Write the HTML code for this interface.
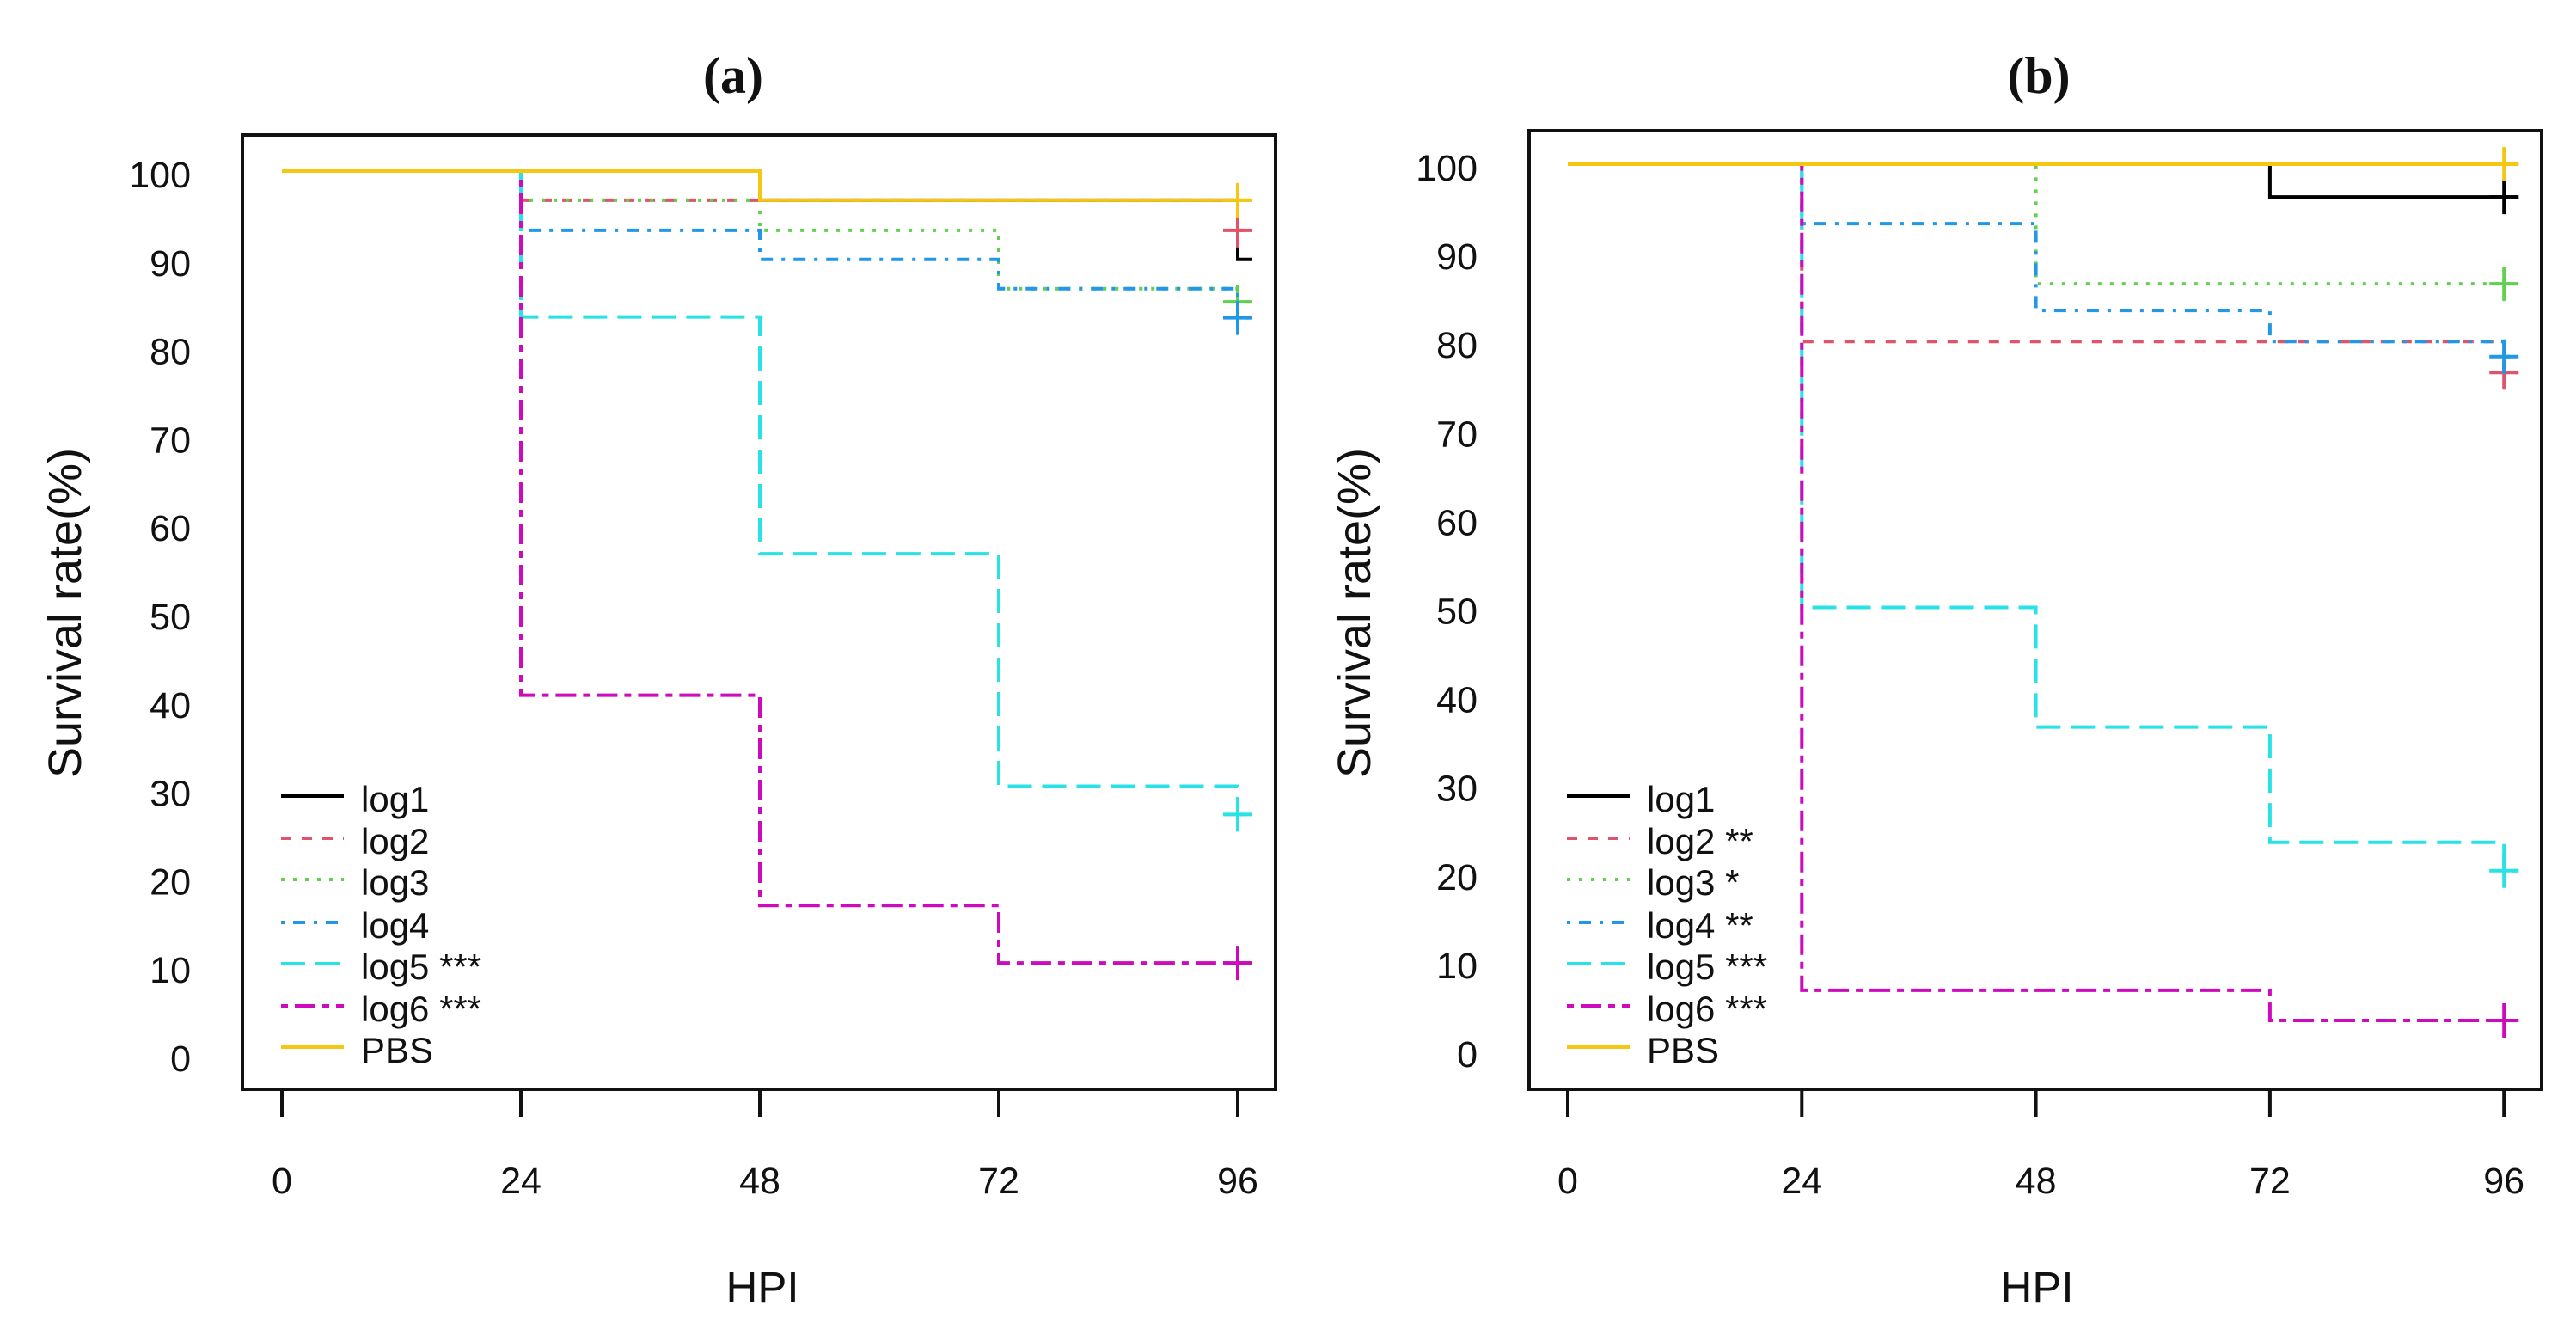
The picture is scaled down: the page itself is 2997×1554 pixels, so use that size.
<!DOCTYPE html>
<html><head><meta charset="utf-8"><style>
html,body{margin:0;padding:0;background:#fff;}
svg{display:block;}
text{font-family:"Liberation Sans",sans-serif;fill:#111;}
</style></head>
<body>
<svg id="chart" width="2997" height="1554" viewBox="0 0 2997 1554" xmlns="http://www.w3.org/2000/svg"></svg>
<script>
const times = [0, 24, 48, 72, 96];
const xTickLabels = ["0", "24", "48", "72", "96"];
const yTickLabels = [0, 10, 20, 30, 40, 50, 60, 70, 80, 90, 100];
const seriesNames = ["log1", "log2", "log3", "log4", "log5", "log6", "PBS"];
const legendA = ["log1", "log2", "log3", "log4", "log5 ***", "log6 ***", "PBS"];
const legendB = ["log1", "log2 **", "log3 *", "log4 **", "log5 ***", "log6 ***", "PBS"];
// panel (a) survival values at 0,24,48,72,96 HPI
const a_log1 = [100, 100, 96.7, 96.7, 90];
const a_log2 = [100, 96.7, 96.7, 96.7, 93.3];
const a_log3 = [100, 96.7, 93.3, 86.7, 85.2];
const a_log4 = [100, 93.3, 90, 86.7, 83.4];
const a_log5 = [100, 83.5, 56.7, 30.4, 27.2];
const a_log6 = [100, 40.7, 16.9, 10.4, 10.4];
const a_pbs  = [100, 100, 96.7, 96.7, 96.7];
// panel (b)
const b_log1 = [100, 100, 100, 96.3, 96.3];
const b_log2 = [100, 80, 80, 80, 76.5];
const b_log3 = [100, 100, 86.5, 86.5, 86.5];
const b_log4 = [100, 93.3, 83.5, 80, 78.3];
const b_log5 = [100, 50, 36.5, 23.5, 20.3];
const b_log6 = [100, 6.8, 6.8, 3.4, 3.4];
const b_pbs  = [100, 100, 100, 100, 100];

const colors = ["#000000", "#DF536B", "#61D04F", "#2297E6", "#28E2E5", "#CD0BBC", "#F5C710"];
const dashes = ["", "12,12", "4,10", "4,10,14,10", "28,12", "8,8,24,8", ""];
const NS = "http://www.w3.org/2000/svg";
const svg = document.getElementById("chart");
function mk(tag, attrs, parent) {
  const e = document.createElementNS(NS, tag);
  for (const k in attrs) e.setAttribute(k, attrs[k]);
  (parent || svg).appendChild(e);
  return e;
}

function panel(cfg) {
  const g = mk("g", {});
  
  
  const xs = t => cfg.x0 + (t / 24) * cfg.xstep;
  const ys = v => cfg.y0 - v * cfg.yunit;
  const title = mk("text", {x: cfg.titleX, y: 108, "text-anchor": "middle", "font-size": 60, "font-weight": "bold", style: "font-family:'Liberation Serif',serif"}, g);
  title.textContent = cfg.title;
  
  
  const box = mk("rect", {x: cfg.bx0, y: cfg.by0, width: cfg.bx1 - cfg.bx0, height: cfg.by1 - cfg.by0, fill: "none", stroke: "#111", "stroke-width": 4}, g);
  
  
  yTickLabels.forEach(v => {
    const t = mk("text", {x: cfg.ylabX, y: ys(v) + 19, "text-anchor": "end", "font-size": 43}, g);
    t.textContent = v;
    
    
  });
  times.forEach((tm, i) => {
    const tk = mk("line", {x1: xs(tm), x2: xs(tm), y1: cfg.by1, y2: cfg.by1 + 32, stroke: "#111", "stroke-width": 4}, g);
    
    
    const t = mk("text", {x: xs(tm), y: 1388, "text-anchor": "middle", "font-size": 43}, g);
    t.textContent = xTickLabels[i];
    
    
  });
  const yt = mk("text", {x: 0, y: 0, "text-anchor": "middle", "font-size": 54, transform: `translate(${cfg.ytitleX},713) rotate(-90)`}, g);
  yt.textContent = "Survival rate(%)";
  
  
  const xt = mk("text", {x: cfg.hpiX, y: 1515, "text-anchor": "middle", "font-size": 51}, g);
  xt.textContent = "HPI";
  
  
  cfg.series.forEach((vals, si) => {
    let d = `M${xs(times[0])},${ys(vals[0])}`;
    for (let i = 1; i < times.length; i++) {
      d += ` L${xs(times[i])},${ys(vals[i - 1])} L${xs(times[i])},${ys(vals[i])}`;
    }
    d += ` L${xs(times[times.length - 1]) + 17},${ys(vals[vals.length - 1])}`;
    const p = mk("path", {d: d, fill: "none", stroke: colors[si], "stroke-width": 4, "stroke-dasharray": dashes[si]}, g);
    
    
    if (cfg.censor[si]) {
      const cx = xs(96), cy = ys(vals[vals.length - 1]);
      const c = mk("path", {d: `M${cx - 17},${cy} L${cx + 17},${cy} M${cx},${cy - 20} L${cx},${cy + 20}`, stroke: colors[si], "stroke-width": 4, fill: "none"}, g);
      
      
    }
  });
  const legendRows = [934, 983, 1031, 1081, 1129, 1178, 1226];
  cfg.legend.forEach((lab, i) => {
    const l = mk("line", {x1: cfg.legX, x2: cfg.legX + 73, y1: legendRows[i] - 8, y2: legendRows[i] - 8, stroke: colors[i], "stroke-width": 4, "stroke-dasharray": dashes[i]}, g);
    
    
    const t = mk("text", {x: cfg.legX + 93, y: legendRows[i] + 10, "font-size": 42}, g);
    t.textContent = lab;
    
    
  });
}

panel({name: "panel-a", title: "(a)", titleX: 853, hpiX: 887, bx0: 282, bx1: 1484, by0: 157, by1: 1267,
  x0: 328, xstep: 278, y0: 1227, yunit: 10.28, ylabX: 222, ytitleX: 94, legX: 327,
  series: [a_log1, a_log2, a_log3, a_log4, a_log5, a_log6, a_pbs],
  censor: [false, true, true, true, true, true, true], legend: legendA});
panel({name: "panel-b", title: "(b)", titleX: 2372, hpiX: 2370, bx0: 1779, bx1: 2957, by0: 152, by1: 1267,
  x0: 1824, xstep: 272.3, y0: 1222, yunit: 10.31, ylabX: 1719, ytitleX: 1594, legX: 1823,
  series: [b_log1, b_log2, b_log3, b_log4, b_log5, b_log6, b_pbs],
  censor: [true, true, true, true, true, true, true], legend: legendB});
</script>
</body></html>
